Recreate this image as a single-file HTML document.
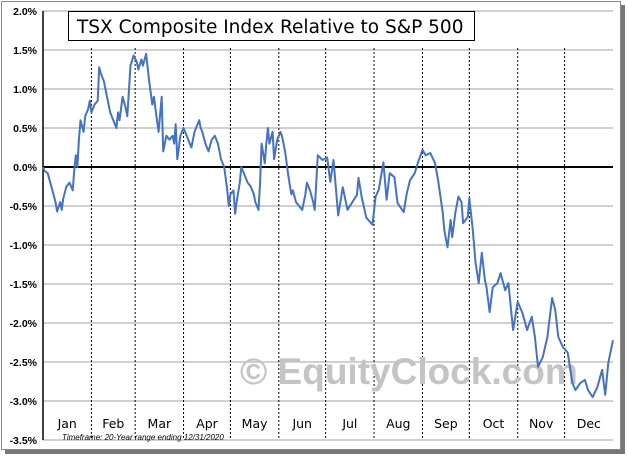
<!DOCTYPE html>
<html><head><meta charset="utf-8"><style>
body{margin:0;background:#fff;width:628px;height:457px;overflow:hidden}
svg{display:block}
</style></head><body>
<svg id="chart" width="628" height="457" xmlns="http://www.w3.org/2000/svg">
<rect x="5" y="5" width="620" height="449" fill="#777"/>
<rect x="1.5" y="1.5" width="619" height="448" fill="#fff" stroke="#888" stroke-width="1"/>
<g id="grid"></g>
<text x="240" y="384" font-family="Liberation Sans, sans-serif" font-weight="bold" font-size="37" fill="#c4c4c4">© EquityClock.com</text>
<g id="marks"></g>
<rect x="68.5" y="11.5" width="406" height="29" fill="#fff" stroke="#000"/>
<text x="77" y="33" font-family="DejaVu Sans, sans-serif" font-size="18.5" fill="#000">TSX Composite Index Relative to S&amp;P 500</text>
<text x="62" y="440" font-family="Liberation Sans, sans-serif" font-style="italic" font-size="8" fill="#000">Timeframe: 20-Year range ending 12/31/2020</text>
</svg>
<script>
const yTicks=[2.0,1.5,1.0,0.5,0.0,-0.5,-1.0,-1.5,-2.0,-2.5,-3.0,-3.5];
const months=["Jan","Feb","Mar","Apr","May","Jun","Jul","Aug","Sep","Oct","Nov","Dec"];
const monthStarts=[0,31,59,90,120,151,181,212,243,273,304,334,365];
const days=[0,1,3,6,8,9,11,12,13,15,17,19,20,21,22,23,24,26,27,29,30,31,33,35,36,37,39,41,43,45,47,48,49,51,53,54,56,58,60,61,63,64,66,68,70,71,73,74,76,77,79,81,83,84,85,86,88,90,92,94,95,97,100,101,102,104,106,108,110,112,114,116,118,119,120,122,123,124,126,127,129,131,133,135,136,138,139,140,142,143,144,145,147,148,150,152,153,155,157,159,160,162,164,166,168,169,171,173,174,176,179,182,184,186,189,192,195,199,201,202,204,207,211,213,215,218,220,222,225,227,231,233,235,238,240,243,245,248,251,253,256,257,259,261,262,264,266,268,269,272,273,275,277,279,281,283,284,286,288,291,293,296,298,301,304,307,310,313,315,317,320,323,326,328,330,333,336,339,341,344,347,349,352,355,358,360,362,365];
const values=[0,-0.05,-0.08,-0.3,-0.45,-0.57,-0.45,-0.55,-0.4,-0.25,-0.2,-0.3,-0.05,0.15,0.0,0.35,0.6,0.45,0.65,0.75,0.85,0.7,0.8,0.85,1.28,1.2,1.1,0.9,0.7,0.6,0.5,0.7,0.6,0.9,0.75,0.65,1.3,1.43,1.35,1.25,1.38,1.3,1.45,1.1,0.8,0.9,0.6,0.45,0.9,0.2,0.4,0.35,0.4,0.3,0.55,0.1,0.4,0.5,0.4,0.3,0.25,0.45,0.6,0.5,0.45,0.3,0.2,0.35,0.4,0.3,0.1,0.0,-0.3,-0.5,-0.35,-0.3,-0.6,-0.45,-0.2,0.0,-0.1,-0.2,-0.25,-0.35,-0.45,-0.55,-0.2,0.3,0.05,0.3,0.5,0.3,0.45,0.1,0.35,0.45,0.4,0.2,-0.1,-0.35,-0.3,-0.45,-0.5,-0.55,-0.35,-0.2,-0.3,-0.45,-0.55,0.15,0.09,0.12,-0.19,0.09,-0.62,-0.26,-0.55,-0.42,-0.36,-0.14,-0.38,-0.65,-0.74,-0.38,-0.29,0.06,-0.42,-0.08,-0.13,-0.46,-0.58,-0.33,-0.17,-0.08,0.05,0.22,0.15,0.18,0.05,-0.17,-0.59,-0.81,-1.03,-0.68,-0.9,-0.59,-0.38,-0.45,-0.72,-0.64,-0.4,-0.77,-1.23,-1.49,-1.1,-1.45,-1.54,-1.86,-1.54,-1.49,-1.36,-1.58,-1.49,-2.09,-1.73,-1.87,-2.09,-1.92,-2.18,-2.56,-2.44,-2.18,-1.68,-1.83,-2.18,-2.31,-2.38,-2.77,-2.86,-2.77,-2.73,-2.86,-2.95,-2.82,-2.6,-2.92,-2.51,-2.22];
const X0=43,X1=613,Y0=167,PPU=78;
function xs(d){return X0+(X1-X0)*d/365;}
function ys(v){return Y0-v*PPU;}
const NS="http://www.w3.org/2000/svg";
const grid=document.getElementById('grid'),marks=document.getElementById('marks');
function mk(tag,attrs,parent){const e=document.createElementNS(NS,tag);for(const k in attrs)e.setAttribute(k,attrs[k]);parent.appendChild(e);return e;}
yTicks.forEach(v=>{
  if(v!==0){const l=mk('line',{x1:X0,x2:X1,y1:ys(v),y2:ys(v),stroke:'#b4b4b4','stroke-width':1.3},grid);
  
  }
  const t=mk('text',{x:37,y:ys(v)+4,'text-anchor':'end','font-family':'Liberation Sans, sans-serif','font-weight':'bold','font-size':'10.5',fill:'#000'},grid);
  t.textContent=v.toFixed(1)+'%';
  
  
});
monthStarts.forEach((d,i)=>{
  if(i>0&&i<12){const l=mk('line',{x1:xs(d),x2:xs(d),y1:ys(1.5)-2,y2:ys(-3.5),stroke:'#000','stroke-width':1,'stroke-dasharray':'2,2'},grid);
  
  }
  if(i<12){const t=mk('text',{x:(xs(d)+xs(monthStarts[i+1]))/2,y:428,'text-anchor':'middle','font-family':'DejaVu Sans, sans-serif','font-size':'12.5',fill:'#000'},grid);
  t.textContent=months[i];
  
  }
});
const ax=mk('line',{x1:X0,x2:X0,y1:ys(2),y2:ys(-3.5),stroke:'#000','stroke-width':1.5},grid);


const zl=mk('line',{x1:X0,x2:X1,y1:ys(0),y2:ys(0),stroke:'#000','stroke-width':2},grid);


const pts=days.map((d,i)=>xs(d).toFixed(1)+','+ys(values[i]).toFixed(1)).join(' ');
const pl=mk('polyline',{points:pts,fill:'none',stroke:'#4472c4','stroke-width':2,'stroke-linejoin':'round'},marks);


</script>
</body></html>
